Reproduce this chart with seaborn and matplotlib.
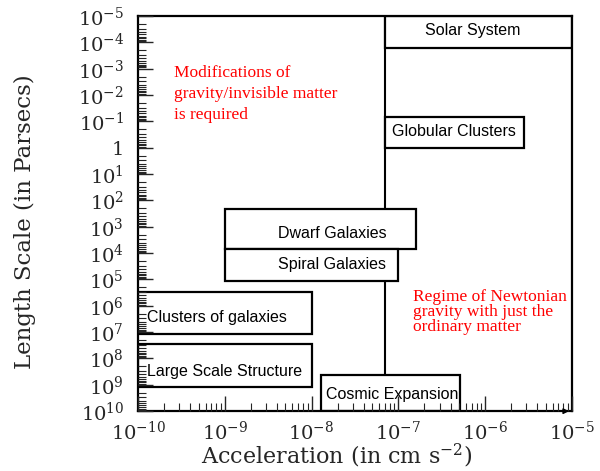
import numpy as np
import pandas as pd
import matplotlib
matplotlib.use("Agg")
import matplotlib.pyplot as plt
from matplotlib.patches import Rectangle
from matplotlib.ticker import LogLocator, FixedLocator, FuncFormatter, NullFormatter
import seaborn as sns

# ---- data ----
regimes = ["Solar System", "Globular Clusters", "Dwarf Galaxies", "Spiral Galaxies",
           "Clusters of galaxies", "Large Scale Structure", "Cosmic Expansion"]
acc_min = [7.0e-8, 7.0e-8, 1.0e-9, 1.0e-9, 1.0e-10, 1.0e-10, 1.27e-8]
acc_max = [1.0e-5, 2.8e-6, 1.6e-7, 1.0e-7, 1.0e-8, 1.0e-8, 5.1e-7]
len_min = [1.0e-5, 0.067, 220.0, 6.9e3, 2.95e5, 2.9e7, 4.3e8]
len_max = [1.6e-4, 1.0, 6.9e3, 1.13e5, 1.16e7, 1.2e9, 1.0e10]
label_x = [7.2e-7, 8.4e-8, 4.1e-9, 4.1e-9, 1.26e-10, 1.26e-10, 1.45e-8]
label_y = [3.7e-5, 0.25, 1.8e3, 2.6e4, 2.8e6, 3.0e8, 2.3e9]
label_ha = ["center", "left", "left", "left", "left", "left", "left"]

newton_acc = 7.0e-8
newton_line_len = [1.0e-5, 4.3e8]

x_ticks = [1e-10, 1e-9, 1e-8, 1e-7, 1e-6, 1e-5]
y_ticks = [10.0 ** k for k in range(-5, 11)]

note_left = "Modifications of\ngravity/invisible matter\nis required"
note_right = "Regime of Newtonian\ngravity with just the\nordinary matter"

df = pd.DataFrame({"regime": regimes, "a0": acc_min, "a1": acc_max,
                   "l0": len_min, "l1": len_max,
                   "tx": label_x, "ty": label_y, "ha": label_ha})

# ---- style ----
sns.set_style("ticks")
plt.rcParams["font.family"] = ["DejaVu Serif"]
plt.rcParams["mathtext.fontset"] = "dejavuserif"

fig = plt.figure(figsize=(6.0, 4.71), dpi=100)
ax = fig.add_axes([0.23, 0.127, 0.723, 0.839])
ax.set_axisbelow(False)

# vertical Newtonian boundary line drawn through seaborn
line_df = pd.DataFrame({"a": [newton_acc, newton_acc], "L": newton_line_len})
sns.lineplot(data=line_df, x="a", y="L", ax=ax, color="black", lw=1.5,
             sort=False, orient="y", estimator=None, zorder=1)

ax.set_xscale("log")
ax.set_yscale("log")
ax.set_xlim(x_ticks[0], x_ticks[-1])
ax.set_ylim(y_ticks[-1], y_ticks[0])

for _, r in df.iterrows():
    ax.add_patch(Rectangle((r.a0, r.l0), r.a1 - r.a0, r.l1 - r.l0,
                           facecolor="white", edgecolor="black", lw=1.6, zorder=2))
    ax.text(r.tx, r.ty, r.regime, ha=r.ha, va="center",
            fontsize=11.5, family="Liberation Sans", color="black", zorder=4)

ax.text(2.6e-10, 9.1e-3, note_left, color="red", fontsize=12.5,
        family="Liberation Serif", ha="left", va="center", linespacing=1.4)
ax.text(1.46e-7, 1.74e6, note_right, color="red", fontsize=12.5,
        family="Liberation Serif", ha="left", va="center", linespacing=0.9)

# ticks
def fmt(v, pos):
    e = int(round(np.log10(v)))
    if e == 0:
        return "1"
    return r"$10^{%d}$" % e

ax.xaxis.set_major_locator(FixedLocator(x_ticks))
ax.yaxis.set_major_locator(FixedLocator(y_ticks))
ax.xaxis.set_major_formatter(FuncFormatter(fmt))
ax.yaxis.set_major_formatter(FuncFormatter(fmt))
ax.xaxis.set_minor_locator(LogLocator(base=10, subs=np.arange(2, 10), numticks=100))
ax.yaxis.set_minor_locator(LogLocator(base=10, subs=np.arange(2, 10), numticks=100))
ax.xaxis.set_minor_formatter(NullFormatter())
ax.yaxis.set_minor_formatter(NullFormatter())
ax.tick_params(which="major", direction="in", length=11, width=1.0,
               labelsize=14, top=False, right=False)
ax.tick_params(which="minor", direction="in", length=5.5, width=0.8,
               top=False, right=False)
ax.tick_params(axis="y", which="major", pad=10)
ax.tick_params(axis="x", which="major", pad=7)

for s in ax.spines.values():
    s.set_linewidth(1.6)
    s.set_color("black")

ax.set_xlabel(r"Acceleration (in cm s$^{-2}$)", fontsize=16)
ax.set_ylabel("Length Scale (in Parsecs)", fontsize=16.5)
ax.xaxis.set_label_coords(0.458, -0.078)
ax.yaxis.set_label_coords(-0.235, 0.48)

# small arrow head at end of x axis
ax.annotate("", xy=(1.0, 0.0), xytext=(0.975, 0.0), xycoords="axes fraction",
            arrowprops=dict(arrowstyle="-|>", color="black", lw=1.0,
                            mutation_scale=8), zorder=5)

fig.savefig("out.png", dpi=100)
